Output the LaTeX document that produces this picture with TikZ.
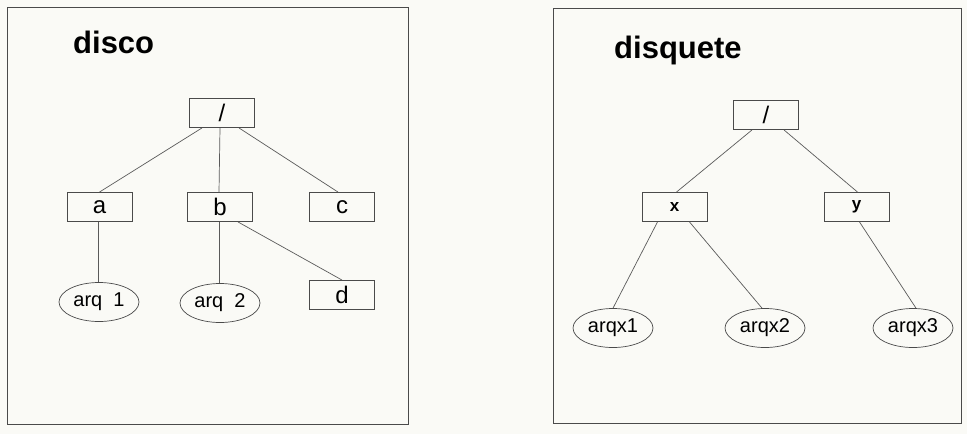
\documentclass[tikz,border=0pt]{standalone}
\usepackage{fontspec}
\setmainfont{Liberation Sans}
\usetikzlibrary{shapes.geometric}
\definecolor{paper}{HTML}{FAFAF6}
\definecolor{ink}{HTML}{4A4A4A}
\definecolor{wire}{HTML}{5A5A5A}
\tikzset{
  frame/.style={draw=ink, line width=0.9pt},
  dirbox/.style={draw=ink, line width=0.9pt, minimum width=65pt, minimum height=29pt, inner sep=0pt, font=\fontsize{24}{27}\selectfont},
  smallbox/.style={dirbox, font=\bfseries\fontsize{17}{19}\selectfont},
  filenode/.style={ellipse, draw=ink, line width=0.7pt, minimum width=80pt, minimum height=39pt, inner sep=0pt, font=\fontsize{20}{22}\selectfont},
  title/.style={anchor=base west, inner sep=0pt, font=\bfseries\fontsize{31}{35}\selectfont},
  link/.style={draw=wire, line width=0.7pt}
}
\begin{document}
\begin{tikzpicture}[x=1pt,y=-1pt]
\fill[paper] (0,0) rectangle (967,434);
\useasboundingbox (0,0) rectangle (967,434);
% frames
\draw[frame] (7,7) rectangle (408,424);
\draw[frame] (553,8) rectangle (961,423);
% left panel
\node[title] (t1) at (73,53) {disco};
\node[dirbox] (r1) at (222,113) {/};
\node[dirbox] (a) at (99.5,207) {a};
\node[dirbox] (b) at (220,207) {b};
\node[dirbox] (c) at (342,207) {c};
\node[dirbox] (d) at (342,295) {d};
\node[filenode] (q1) at (99,302) {arq\ \ 1};
\node[filenode] (q2) at (220,303) {arq\ \ 2};
\draw[link] ([xshift=-20pt]r1.south) -- (a.north);
\draw[link] ([xshift=-2pt]r1.south) -- ([xshift=-1pt]b.north);
\draw[link] ([xshift=17pt]r1.south) -- ([xshift=-4pt]c.north);
\draw[link] ([xshift=18pt]b.south) -- (d.north);
\draw[link] ([xshift=-1pt]a.south) -- ([xshift=-1pt]a.south |- q1.north);
\draw[link] ([xshift=-1pt]b.south) -- ([xshift=-1pt]b.south |- q2.north);
% right panel
\node[title] (t2) at (614,58) {disquete};
\node[dirbox] (r2) at (766,115) {/};
\node[smallbox] (x) at (674.5,207) {x};
\node[smallbox] (y) at (856.5,207) {y};
\node[filenode] (x1) at (613,328) {arqx1};
\node[filenode] (x2) at (765,328) {arqx2};
\node[filenode] (x3) at (913,328) {arqx3};
\draw[link] ([xshift=-14pt]r2.south) -- ([xshift=2pt]x.north);
\draw[link] ([xshift=18pt]r2.south) -- ([xshift=1pt]y.north);
\draw[link] ([xshift=-17pt]x.south) -- (x1.north);
\draw[link] ([xshift=15pt]x.south) -- ([xshift=-3pt]x2.north);
\draw[link] ([xshift=3pt]y.south) -- ([xshift=3pt]x3.north);
\end{tikzpicture}
\end{document}
